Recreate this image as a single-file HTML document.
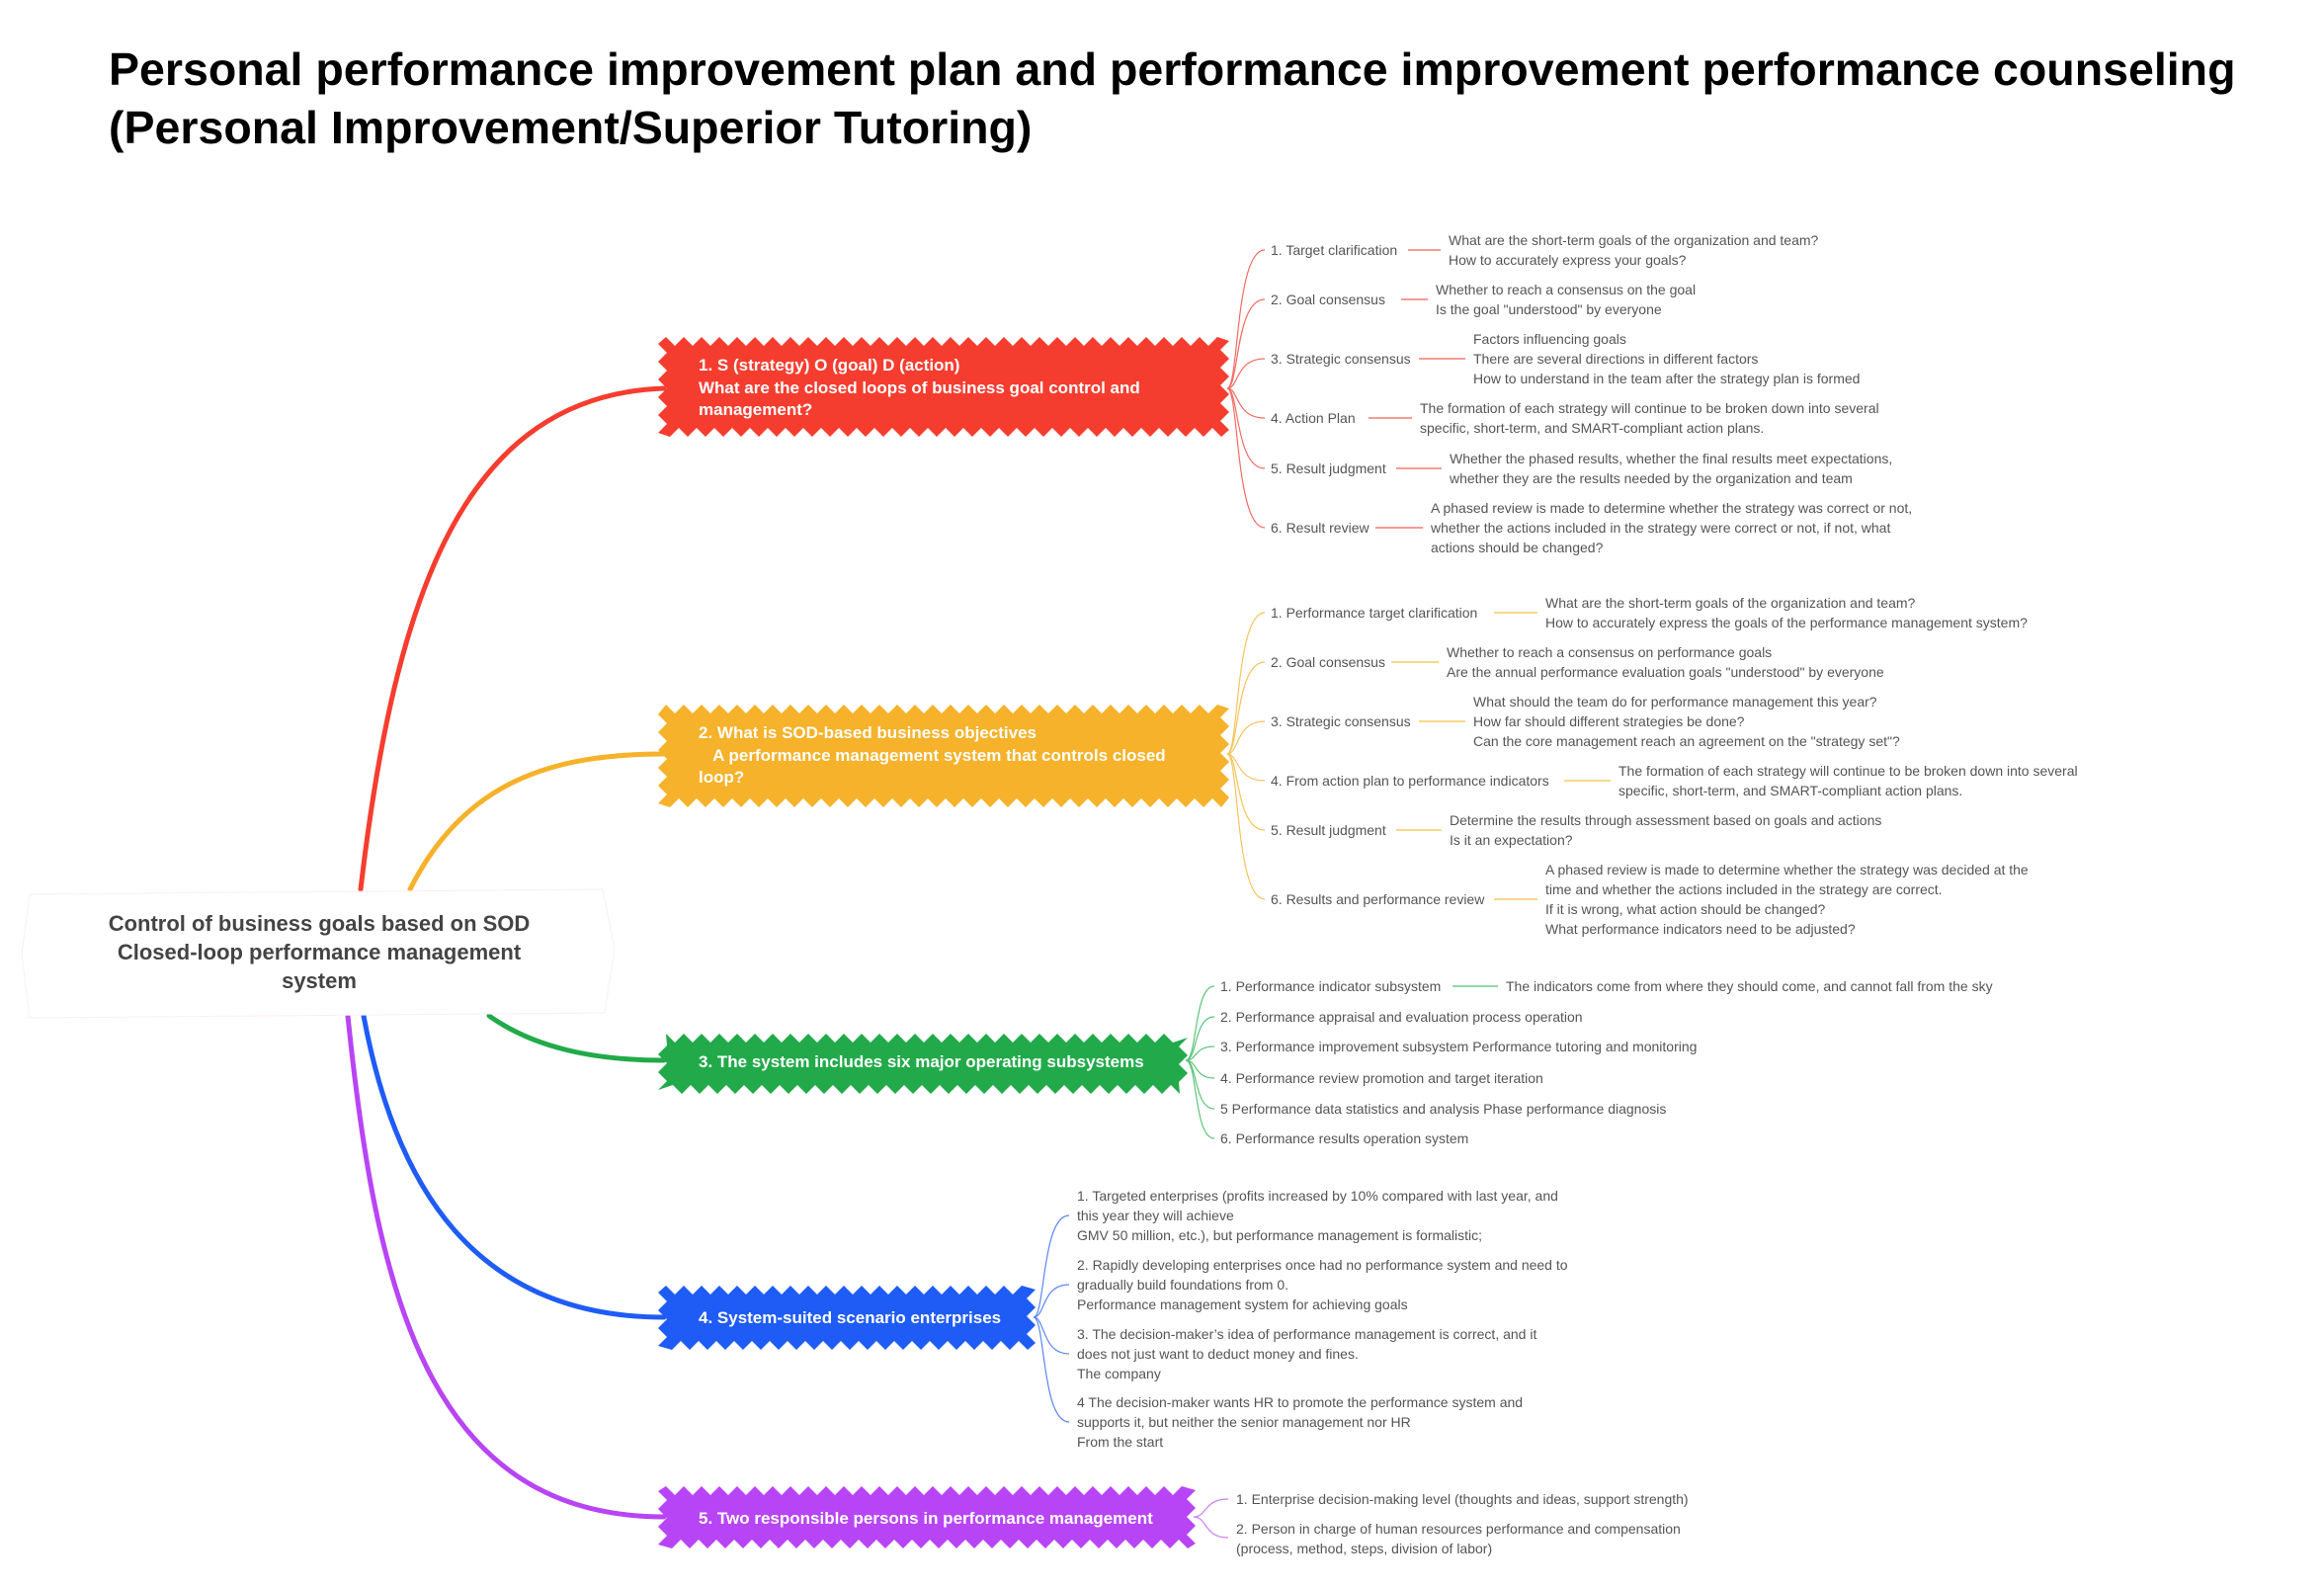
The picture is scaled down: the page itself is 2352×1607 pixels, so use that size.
<!DOCTYPE html>
<html><head><meta charset="utf-8">
<style>
html,body{margin:0;padding:0;background:#fff;}
svg{display:block;}
text{font-family:"Liberation Sans",sans-serif;}
.t{font-size:46.5px;font-weight:bold;fill:#000;}
.m{font-size:17px;font-weight:bold;fill:#fff;}
.c{font-size:14px;fill:#555;}
.d{font-size:14px;fill:#555;}
</style></head>
<body>
<svg id="s" width="2352" height="1607" viewBox="0 0 2352 1607" xmlns="http://www.w3.org/2000/svg">
<g id="shapes"></g>
<text class="t" x="110" y="86">Personal performance improvement plan and performance improvement performance counseling</text>
<text class="t" x="110" y="145">(Personal Improvement/Superior Tutoring)</text>

<g fill="none" stroke-width="5" stroke-linecap="round">
<path d="M365,900 C400,600 470,400 672,393" stroke="#f53d2f"/>
<path d="M415,900 C470,790 560,763 672,763" stroke="#f5b22a"/>
<path d="M495,1028 C540,1060 600,1073 672,1073" stroke="#22aa4a"/>
<path d="M368,1028 C400,1200 480,1333 672,1333" stroke="#1f5cf6"/>
<path d="M352,1028 C380,1300 430,1535 672,1535" stroke="#b845f5"/>
</g>

<path d="M30,905 L610,900 L622,960 L612,1025 L30,1030 L22,965 Z" fill="#fff" stroke="#fbeef1" stroke-width="1"/>
<text x="323" y="942" text-anchor="middle" style="font-size:22px;font-weight:bold;fill:#444">Control of business goals based on SOD</text>
<text x="323" y="971" text-anchor="middle" style="font-size:22px;font-weight:bold;fill:#444">Closed-loop performance management</text>
<text x="323" y="1000" text-anchor="middle" style="font-size:22px;font-weight:bold;fill:#444">system</text>

<text class="m" x="707" y="375">1. S (strategy)  O (goal) D (action)</text>
<text class="m" x="707" y="398">What are the closed loops of business goal control and</text>
<text class="m" x="707" y="420">management?</text>
<text class="m" x="707" y="747">2. What is SOD-based business objectives</text>
<text class="m" x="707" y="770">&#160;&#160;&#160;A performance management system that controls closed</text>
<text class="m" x="707" y="792">loop?</text>
<text class="m" x="707" y="1080">3. The system includes six major operating subsystems</text>
<text class="m" x="707" y="1339">4. System-suited scenario enterprises</text>
<text class="m" x="707" y="1542">5. Two responsible persons in performance management</text>

<g id="branches" fill="none" stroke-width="1.2"></g>
<g id="texts"></g>
</svg>
<script>
var NS="http://www.w3.org/2000/svg";
function el(tag,attrs,parent,txt){var e=document.createElementNS(NS,tag);for(var k in attrs)e.setAttribute(k,attrs[k]);if(txt!==undefined)e.textContent=txt;parent.appendChild(e);return e;}
var shapes=document.getElementById('shapes'),br=document.getElementById('branches'),tx=document.getElementById('texts');
function jag(x1,y1,x2,y2,col){
  var p=[],step=9,amp=9,i=0;
  for(var x=x1+6;x<=x2-6;x+=step){p.push([x,y1+(i%2?amp:0)-4]);i++;}
  i=0;for(var y=y1;y<=y2;y+=step){p.push([x2+(i%2?-amp:0)+2,y]);i++;}
  i=0;for(var x=x2-6;x>=x1+6;x-=step){p.push([x,y2-(i%2?amp:0)+4]);i++;}
  i=0;for(var y=y2;y>=y1;y-=step){p.push([x1-(i%2?-amp:0)-2,y]);i++;}
  el('polygon',{points:p.map(function(a){return a.join(',')}).join(' '),fill:col},shapes);
  el('rect',{x:x1+8,y:y1+6,width:x2-x1-16,height:y2-y1-12,fill:col},shapes);
}
jag(668,345,1242,438,'#f53d2f');
jag(668,717,1242,813,'#f5b22a');
jag(668,1050,1200,1103,'#22aa4a');
jag(668,1305,1046,1362,'#1f5cf6');
jag(668,1508,1208,1563,'#b845f5');

function group(ax,ay,lx,col,lcol,items){
  items.forEach(function(it){
    var y=it.y;
    el('path',{d:'M'+ax+','+ay+' C'+(ax+12)+','+ay+' '+(ax+8)+','+y+' '+(lx-6)+','+y,stroke:col},br);
    el('text',{class:'c',x:lx,y:y+5},tx,it.l);
    if(it.d){
      el('line',{x1:it.a,y1:y,x2:it.b,y2:y,stroke:lcol,'stroke-width':2},br);
      var n=it.d.length,y0=y-(n-1)*10;
      it.d.forEach(function(s,i){el('text',{class:'d',x:it.b+8,y:y0+i*20+5},tx,s);});
    }
  });
}
group(1242,393,1286,'#f56b62','#f79b95',[
 {y:253,l:'1. Target clarification',a:1425,b:1458,d:['What are the short-term goals of the organization and team?','How to accurately express your goals?']},
 {y:303,l:'2. Goal consensus',a:1418,b:1445,d:['Whether to reach a consensus on the goal','Is the goal "understood" by everyone']},
 {y:363,l:'3. Strategic consensus',a:1436,b:1483,d:['Factors influencing goals','There are several directions in different factors','How to understand in the team after the strategy plan is formed']},
 {y:423,l:'4. Action Plan',a:1385,b:1429,d:['The formation of each strategy will continue to be broken down into several','specific, short-term, and SMART-compliant action plans.']},
 {y:474,l:'5. Result judgment',a:1413,b:1459,d:['Whether the phased results, whether the final results meet expectations,','whether they are the results needed by the organization and team']},
 {y:534,l:'6. Result review',a:1392,b:1440,d:['A phased review is made to determine whether the strategy was correct or not,','whether the actions included in the strategy were correct or not, if not, what','actions should be changed?']}
]);
group(1242,763,1286,'#f6c45a','#f8d888',[
 {y:620,l:'1. Performance target clarification',a:1512,b:1556,d:['What are the short-term goals of the organization and team?','How to accurately express the goals of the performance management system?']},
 {y:670,l:'2. Goal consensus',a:1408,b:1456,d:['Whether to reach a consensus on performance goals','Are the annual performance evaluation goals "understood" by everyone']},
 {y:730,l:'3. Strategic consensus',a:1436,b:1483,d:['What should the team do for performance management this year?','How far should different strategies be done?','Can the core management reach an agreement on the "strategy set"?']},
 {y:790,l:'4. From action plan to performance indicators',a:1583,b:1630,d:['The formation of each strategy will continue to be broken down into several','specific, short-term, and SMART-compliant action plans.']},
 {y:840,l:'5. Result judgment',a:1413,b:1459,d:['Determine the results through assessment based on goals and actions','Is it an expectation?']},
 {y:910,l:'6. Results and performance review',a:1512,b:1556,d:['A phased review is made to determine whether the strategy was decided at the','time and whether the actions included in the strategy are correct.','If it is wrong, what action should be changed?','What performance indicators need to be adjusted?']}
]);
group(1200,1073,1235,'#5cc47a','#8fdba4',[
 {y:998,l:'1. Performance indicator subsystem',a:1470,b:1516,d:['The indicators come from where they should come, and cannot fall from the sky']},
 {y:1029,l:'2. Performance appraisal and evaluation process operation'},
 {y:1059,l:'3. Performance improvement subsystem Performance tutoring and monitoring'},
 {y:1091,l:'4. Performance review promotion and target iteration'},
 {y:1122,l:'5 Performance data statistics and analysis Phase performance diagnosis'},
 {y:1152,l:'6. Performance results operation system'}
]);
var blue=[[1210,'1. Targeted enterprises (profits increased by 10% compared with last year, and','this year they will achieve','GMV 50 million, etc.), but performance management is formalistic;'],
[1280,'2. Rapidly developing enterprises once had no performance system and need to','gradually build foundations from 0.','Performance management system for achieving goals'],
[1350,'3. The decision-maker\u2019s idea of performance management is correct, and it','does not just want to deduct money and fines.','The company'],
[1419,'4 The decision-maker wants HR to promote the performance system and','supports it, but neither the senior management nor HR','From the start']];
blue.forEach(function(b){
  var hy=b[0]+20;
  el('path',{d:'M1046,1333 C1058,1333 1054,'+hy+' 1082,'+hy,stroke:'#5b85f7'},br);
  for(var i=1;i<4;i++)el('text',{class:'d',x:1090,y:b[0]+(i-1)*20+5},tx,b[i]);
});
el('path',{d:'M1208,1535 C1222,1535 1218,1517 1243,1517',stroke:'#cc80f7'},br);
el('path',{d:'M1208,1535 C1222,1535 1218,1556 1243,1556',stroke:'#cc80f7'},br);
el('text',{class:'d',x:1251,y:1522},tx,'1. Enterprise decision-making level (thoughts and ideas, support strength)');
el('text',{class:'d',x:1251,y:1552},tx,'2. Person in charge of human resources performance and compensation');
el('text',{class:'d',x:1251,y:1572},tx,'(process, method, steps, division of labor)');
</script>
</body></html>
